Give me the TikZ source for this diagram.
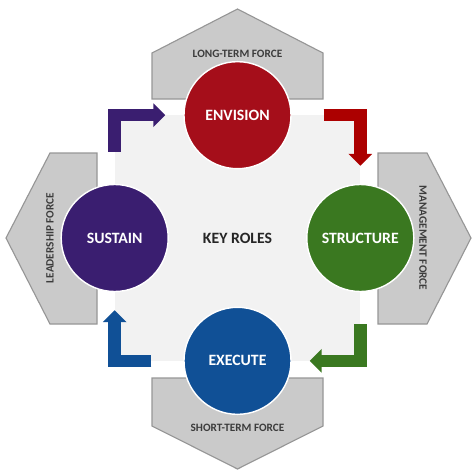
\documentclass[tikz,border=0pt]{standalone}
\usepackage{fontspec}
\setmainfont{Carlito}
\usetikzlibrary{calc,arrows.meta}

\definecolor{envred}{RGB}{165,14,26}
\definecolor{arrred}{RGB}{172,0,0}
\definecolor{strgreen}{RGB}{58,120,32}
\definecolor{exeblue}{RGB}{16,80,150}
\definecolor{suspurple}{RGB}{58,30,112}
\definecolor{squarebg}{RGB}{242,242,242}
\definecolor{forcefill}{RGB}{202,202,202}
\definecolor{forceline}{RGB}{150,150,150}
\definecolor{labeltext}{RGB}{60,60,60}

\begin{document}
\begin{tikzpicture}[x=0.025cm,y=-0.025cm,
    force/.style={fill=forcefill,draw=forceline,line width=0.8pt},
    forcelabel/.style={text=labeltext,font=\fontsize{8}{9}\selectfont\bfseries},
    role/.style={circle,draw=white,line width=1pt,minimum size=2.675cm,inner sep=0pt,
        text=white,font=\fontsize{11.2}{13}\selectfont\bfseries},
    flow/.style={line width=8.9pt,line join=miter,-{Triangle[length=8.5pt,width=16.4pt]}}]
    \useasboundingbox (0,0) rectangle (474,474);

    %%%%%%%%%% Forze %%%%%%%%%%
    \draw[force] (152,99) -- (152,53) -- (237.5,9) -- (323,53) -- (323,99) -- cycle;
    \draw[force] (152,378) -- (152,426) -- (237.5,469) -- (323,426) -- (323,378) -- cycle;
    \draw[force] (97,153) -- (50,153) -- (6,238) -- (50,324) -- (97,324) -- cycle;
    \draw[force] (378,153) -- (427,153) -- (471,238) -- (427,324) -- (378,324) -- cycle;
    \node (longterm) at (237.5,53.5) [forcelabel] {LONG-TERM FORCE};
    \node (shortterm) at (237.5,428) [forcelabel] {SHORT-TERM FORCE};
    \node (leadership) at (50,238) [forcelabel,rotate=90] {LEADERSHIP FORCE};
    \node (management) at (423,238) [forcelabel,rotate=-90] {MANAGEMENT FORCE};

    %%%%%%%%%% Nodi %%%%%%%%%%
    \node (keyroles) at (237.5,238) [fill=squarebg,minimum size=6.125cm,inner sep=0pt,
        text={rgb,255:red,38;green,38;blue,38},font=\fontsize{11.2}{13}\selectfont\bfseries] {KEY ROLES};
    \node (env) at (keyroles.north) [role,fill=envred] {ENVISION};
    \node (str) at (keyroles.east) [role,fill=strgreen] {STRUCTURE};
    \node (exe) at (keyroles.south) [role,fill=exeblue] {EXECUTE};
    \node (sus) at (keyroles.west) [role,fill=suspurple] {SUSTAIN};

    %%%%%%%%% Frecce %%%%%%%%%
    \draw[flow,suspurple] ($(sus.north)+(0,-32)$) |- ($(env.west)+(-18,0)$);
    \draw[flow,arrred] ($(env.east)+(32,0)$) -| ($(str.north)+(0,-18)$);
    \draw[flow,strgreen] ($(str.south)+(0,32)$) |- ($(exe.east)+(18,0)$);
    \draw[flow,exeblue] ($(exe.west)+(-32,0)$) -| ($(sus.south)+(0,18)$);
\end{tikzpicture}
\end{document}
